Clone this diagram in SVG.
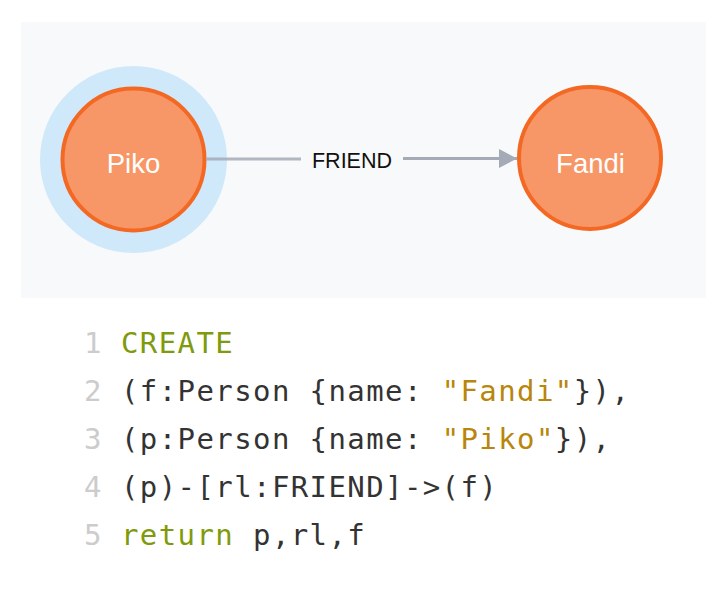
<svg xmlns="http://www.w3.org/2000/svg" width="723" height="597" viewBox="0 0 723 597">
<defs>
<style>
.node-ring{fill:#f79767;stroke:#f36924;stroke-width:4}
.node-label{font-family:"Liberation Sans",Arial,sans-serif;font-size:27.5px;fill:#ffffff;text-anchor:middle}
.edge{stroke:#a5abb6;stroke-width:3;fill:none}
.edge-label{font-family:"Liberation Sans",Arial,sans-serif;font-size:21.5px;fill:#111111;text-anchor:middle}
.code{font-family:"DejaVu Sans Mono","Liberation Mono",monospace;font-size:29px;letter-spacing:1.4px;fill:#333333}
.ln{fill:#cccccc}
.kw{fill:#7f9a0b}
.str{fill:#b8860b}
</style>
<marker id="arrow" markerWidth="18" markerHeight="19" refX="18" refY="9.5" orient="auto" markerUnits="userSpaceOnUse">
<path d="M0,0 L18,9.5 L0,19 Z" fill="#a5abb6"/>
</marker>
</defs>
<rect x="0" y="0" width="723" height="597" fill="#ffffff"/>
<rect x="21" y="22" width="685" height="276" fill="#f8f9fb"/>
<g id="node-piko">
<circle cx="133.5" cy="159.5" r="93.5" fill="#cfe9fb"/>
<circle class="node-ring" cx="133.5" cy="159.5" r="71"/>
<text class="node-label" x="133.5" y="173">Piko</text>
</g>
<g id="node-fandi">
<circle class="node-ring" cx="590" cy="158" r="71"/>
<text class="node-label" x="590.5" y="173">Fandi</text>
</g>
<g id="connectors">
<line class="edge" x1="206.5" y1="159" x2="301" y2="159" stroke-opacity="0.85"/>
<line class="edge" x1="403" y1="158.5" x2="517" y2="158.5" marker-end="url(#arrow)"/>
<text class="edge-label" x="352" y="167.5">FRIEND</text>
</g>
<g id="code">
<text class="code" y="353"><tspan class="ln" x="84">1</tspan><tspan class="kw" x="121">CREATE</tspan></text>
<text class="code" y="401"><tspan class="ln" x="84">2</tspan><tspan x="121">(f:Person {name: </tspan><tspan class="str">"Fandi"</tspan><tspan>}),</tspan></text>
<text class="code" y="449"><tspan class="ln" x="84">3</tspan><tspan x="121">(p:Person {name: </tspan><tspan class="str">"Piko"</tspan><tspan>}),</tspan></text>
<text class="code" y="497"><tspan class="ln" x="84">4</tspan><tspan x="121">(p)-[rl:FRIEND]-&gt;(f)</tspan></text>
<text class="code" y="545"><tspan class="ln" x="84">5</tspan><tspan class="kw" x="121">return</tspan><tspan> p,rl,f</tspan></text>
</g>
</svg>
